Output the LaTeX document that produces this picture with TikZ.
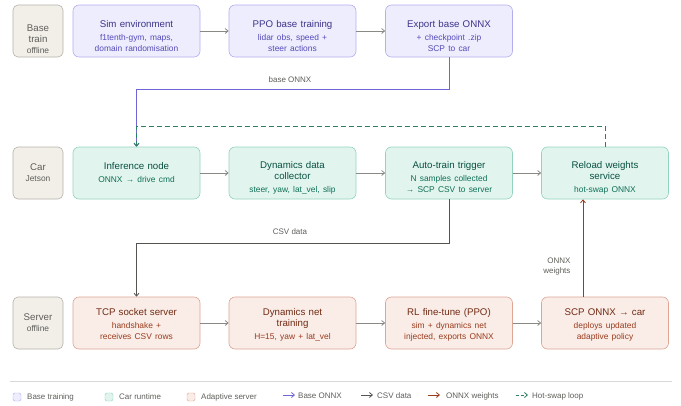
\documentclass[tikz,border=0pt]{standalone}
\usepackage{fontspec}
\setmainfont{Liberation Sans}
\usetikzlibrary{arrows.meta}
\definecolor{purF}{HTML}{EEEDFE}
\definecolor{purD}{HTML}{B3AEEE}
\definecolor{purT}{HTML}{3C3489}
\definecolor{purS}{HTML}{534AB7}
\definecolor{grnF}{HTML}{E1F5EE}
\definecolor{grnD}{HTML}{93D3BC}
\definecolor{grnT}{HTML}{085041}
\definecolor{grnS}{HTML}{0F6E56}
\definecolor{corF}{HTML}{FAECE7}
\definecolor{corD}{HTML}{DDA592}
\definecolor{corT}{HTML}{712B13}
\definecolor{corS}{HTML}{993C1D}
\definecolor{gryF}{HTML}{F1EFE8}
\definecolor{gryD}{HTML}{B4B2A9}
\definecolor{gryT}{HTML}{5F5E5A}
\definecolor{arrG}{HTML}{8A8984}
\definecolor{onnxC}{HTML}{6F66D6}
\definecolor{csvC}{HTML}{55544F}
\definecolor{swapC}{HTML}{2E7D66}
\newcommand{\subl}[1]{{\fontsize{8.4}{11}\selectfont\color{\subcol}#1}}
\begin{document}
\begin{tikzpicture}[x=1pt, y=-1pt,
  box/.style={draw, rounded corners=6pt, line width=0.6pt, text width=125pt, inner xsep=1pt, inner ysep=0pt, minimum height=52pt, align=center, font=\fontsize{9.7}{11}\selectfont},
  basebox/.style={box, fill=purF, draw=purD, text=purT, execute at begin node=\def\subcol{purS}},
  carbox/.style={box, fill=grnF, draw=grnD, text=grnT, execute at begin node=\def\subcol{grnS}},
  srvbox/.style={box, fill=corF, draw=corD, text=corT, execute at begin node=\def\subcol{corS}},
  rowbox/.style={draw=gryD, fill=gryF, text=gryT, rounded corners=5pt, line width=0.6pt, text width=48pt, inner xsep=1pt, inner ysep=0pt, minimum height=52pt, align=center, font=\fontsize{9.7}{11}\selectfont, execute at begin node=\def\subcol{gryT}},
  textdrop/.style={execute at begin node={\rule{0pt}{#1}}},
  flow/.style={draw=arrG, line width=0.8pt, -{Straight Barb[length=3pt,width=5pt]}},
  onnxline/.style={draw=onnxC, line width=0.8pt, -{Straight Barb[length=3pt,width=5pt]}},
  csvline/.style={draw=csvC, line width=0.8pt, -{Straight Barb[length=3pt,width=5pt]}},
  wline/.style={draw=corS, line width=0.8pt, -{Straight Barb[length=3pt,width=5pt]}},
  swapline/.style={draw=swapC, line width=0.8pt, dash pattern=on 5pt off 3pt, -{Straight Barb[length=3pt,width=5pt]}},
  elabel/.style={text=gryT, font=\fontsize{8}{10}\selectfont},
  legtext/.style={text=gryT, font=\fontsize{8}{10}\selectfont, anchor=west, inner sep=0pt}]
\useasboundingbox (0,0) rectangle (681,405);
% rows
\node[rowbox, textdrop=24pt] at (38,31) (rbase) {Base\\train\\\subl{offline}};
\node[rowbox] at (38,173) (rcar) {Car\\\subl{Jetson}};
\node[rowbox] at (38,323) (rsrv) {Server\\\subl{offline}};
% base training
\node[basebox, textdrop=17pt] at (136.5,31) (sim) {Sim environment\\[2pt]\subl{f1tenth-gym, maps,\\domain randomisation}};
\node[basebox, textdrop=17pt] at (292.5,31) (ppo) {PPO base training\\[2pt]\subl{lidar obs, speed +\\steer actions}};
\node[basebox, textdrop=17pt] at (449,31) (export) {Export base ONNX\\[2pt]\subl{+ checkpoint .zip\\SCP to car}};
% car runtime
\node[carbox] at (136.5,173) (infer) {Inference node\\[2pt]\subl{ONNX → drive cmd}};
\node[carbox, textdrop=16pt] at (292.5,173) (collect) {Dynamics data\\collector\\[2pt]\subl{steer, yaw, lat\_vel, slip}};
\node[carbox, textdrop=16pt] at (449,173) (trigger) {Auto-train trigger\\[2pt]\subl{N samples collected\\→ SCP CSV to server}};
\node[carbox, textdrop=16pt] at (605,173) (reload) {Reload weights\\service\\[2pt]\subl{hot-swap ONNX}};
% adaptive server
\node[srvbox, textdrop=10pt] at (136.5,323) (tcp) {TCP socket server\\[2pt]\subl{handshake +\\receives CSV rows}};
\node[srvbox, textdrop=10pt] at (292.5,323) (dyn) {Dynamics net\\training\\[2pt]\subl{H=15, yaw + lat\_vel}};
\node[srvbox, textdrop=10pt] at (449,323) (rl) {RL fine-tune (PPO)\\[2pt]\subl{sim + dynamics net\\injected, exports ONNX}};
\node[srvbox, textdrop=10pt] at (605,323) (scp) {SCP ONNX → car\\[2pt]\subl{deploys updated\\adaptive policy}};
% flow in rows
\draw[flow] (sim) -- (ppo);
\draw[flow] (ppo) -- (export);
\draw[flow] (infer) -- (collect);
\draw[flow] (collect) -- (trigger);
\draw[flow] (trigger) -- (reload);
\draw[flow] (tcp) -- (dyn);
\draw[flow] (dyn) -- (rl);
\draw[flow] (rl) -- (scp);
% between rows
\coordinate (onnxbend) at (136.5,89);
\coordinate (swapbend) at (136.5,126);
\coordinate (csvbend) at (136.5,243);
\draw[onnxline] (export.south) |- (onnxbend) -- (infer.north);
\node[elabel] at (290,80) (onnxlab) {base ONNX};
\draw[swapline] (reload.north) |- (swapbend) -- (infer.north);
\draw[csvline] (trigger.south) |- (csvbend) -- (tcp.north);
\node[elabel] at (290,232) (csvlab) {CSV data};
\draw[wline] ([xshift=-22pt]scp.north) -- ([xshift=-22pt]reload.south);
\node[elabel, align=right, anchor=east] at (574,267) (wlab) {ONNX\\weights};
% legend
\draw[gryD!50, line width=0.5pt] (10,381) -- (672,381);
\node[draw=purD, fill=purF, rounded corners=1.5pt, minimum size=8pt, inner sep=0pt] at (17,397) (lgbase) {};
\node[legtext] at (27,397) {Base training};
\node[draw=grnD, fill=grnF, rounded corners=1.5pt, minimum size=8pt, inner sep=0pt] at (109,397) (lgcar) {};
\node[legtext] at (119,397) {Car runtime};
\node[draw=corD, fill=corF, rounded corners=1.5pt, minimum size=8pt, inner sep=0pt] at (191,397) (lgsrv) {};
\node[legtext] at (201,397) {Adaptive server};
\coordinate (la1) at (283,395); \coordinate (la2) at (295,395);
\draw[onnxline] (la1) -- (la2);
\node[legtext] at (298,396) {Base ONNX};
\coordinate (lb1) at (361,395); \coordinate (lb2) at (373,395);
\draw[csvline] (lb1) -- (lb2);
\node[legtext] at (377,396) {CSV data};
\coordinate (lc1) at (428,395); \coordinate (lc2) at (440,395);
\draw[wline] (lc1) -- (lc2);
\node[legtext] at (446,396) {ONNX weights};
\coordinate (ld1) at (516,395); \coordinate (ld2) at (528,395);
\draw[swapline, dash pattern=on 3pt off 2pt] (ld1) -- (ld2);
\node[legtext] at (532,396) {Hot-swap loop};
\end{tikzpicture}
\end{document}
